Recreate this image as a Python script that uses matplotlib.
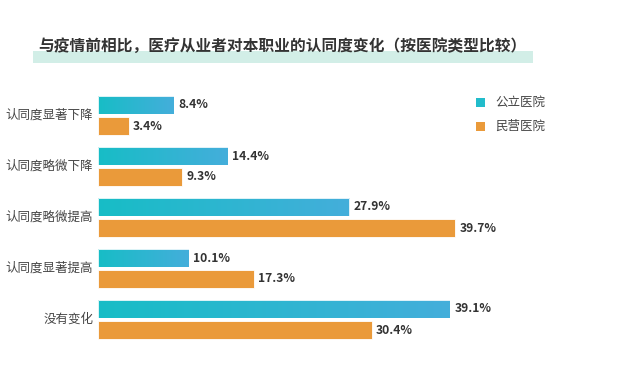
import numpy as np
import matplotlib
matplotlib.use('Agg')
import matplotlib.pyplot as plt
import matplotlib.patches as patches
from matplotlib.colors import LinearSegmentedColormap

plt.rcParams['font.family'] = ['Noto Sans CJK SC', 'DejaVu Sans']

categories = ['认同度显著下降', '认同度略微下降', '认同度略微提高', '认同度显著提高', '没有变化']
public = [8.4, 14.4, 27.9, 10.1, 39.1]
private = [3.4, 9.3, 39.7, 17.3, 30.4]
series_names = ['公立医院', '民营医院']
title = '与疫情前相比，医疗从业者对本职业的认同度变化（按医院类型比较）'

teal = '#22bccb'
orange = '#ea9a3a'
grad = LinearSegmentedColormap.from_list('g', ['#17bdc6', '#44aedb'])

W, H = 640, 371
fig = plt.figure(figsize=(W / 100, H / 100), dpi=100)

# axes placed in pixels: zero at x=98, 9.0 px per percent
px_per = 9.0
left = 98
top, bottom = 70, 371
ax = fig.add_axes([left / W, 0, (W - left) / W, (H - top) / H])
grp = 51.0
c0 = 115.5
xlim = (0, (W - left) / px_per)
ylim = ((bottom - c0) / grp, -(c0 - top) / grp)
ax.set_axis_off()

y = np.arange(len(categories))
h = 18 / grp
off = 10.5 / grp

bars_pub = ax.barh(y - off, public, height=h, color=teal, edgecolor='white', linewidth=0.6)
bars_pri = ax.barh(y + off, private, height=h, color=orange, edgecolor='white', linewidth=0.6)

# gradient on the public bars
gimg = np.linspace(0, 1, 256).reshape(1, -1)
for b in bars_pub:
    x0, y0 = b.get_x(), b.get_y()
    im = ax.imshow(gimg, cmap=grad, aspect='auto', interpolation='bicubic',
                   extent=[x0, x0 + b.get_width(), y0 + b.get_height(), y0], zorder=2)
    im.set_clip_path(b)
    b.set_zorder(3)
    b.set_facecolor('none')
ax.set_xlim(*xlim)
ax.set_ylim(*ylim)

for bars, vals in ((bars_pub, public), (bars_pri, private)):
    for b, v in zip(bars, vals):
        ax.text(v + 0.5, b.get_y() + b.get_height() / 2, f'{v}%', va='center', ha='left',
                fontsize=8.7, fontweight='bold', color='#333333')

for yi, c in zip(y, categories):
    ax.text(-0.55, yi, c, ha='right', va='center', fontsize=9, color='#444444')

# title with highlight band
fig.patches.append(patches.Rectangle((33 / W, 1 - 63 / H), 500 / W, 12 / H,
                                     transform=fig.transFigure, facecolor='#d2eee7',
                                     edgecolor='none', zorder=0))
fig.text(38 / W, 1 - 46 / H, title, ha='left', va='center', fontsize=11.3,
         fontweight='bold', color='#333333')

# legend
for i, (name, col) in enumerate(zip(series_names, [teal, orange])):
    yy = 102 + i * 24
    fig.patches.append(patches.Rectangle((476 / W, 1 - (yy + 4.5) / H), 9 / W, 9 / H,
                                         transform=fig.transFigure, facecolor=col,
                                         edgecolor='none'))
    fig.text(495 / W, 1 - yy / H, name, ha='left', va='center', fontsize=9, color='#444444')

fig.savefig('out.png', dpi=100)
